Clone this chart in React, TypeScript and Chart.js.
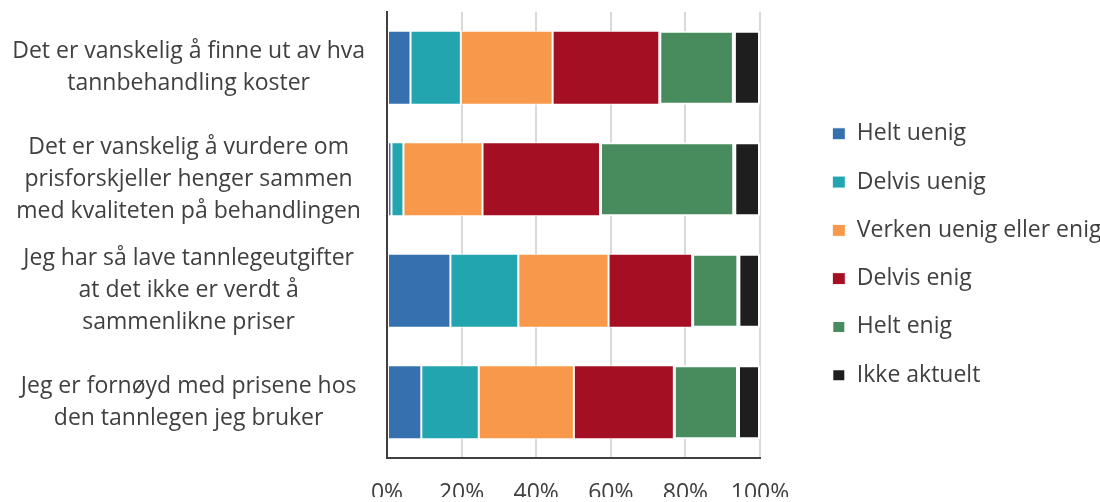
import React, { useEffect, useRef } from "react";
import { Chart, registerables } from "chart.js";

Chart.register(...registerables);

const categories: string[][] = [
  ["Det er vanskelig å finne ut av hva", "tannbehandling koster"],
  ["Det er vanskelig å vurdere om", "prisforskjeller henger sammen", "med kvaliteten på behandlingen"],
  ["Jeg har så lave tannlegeutgifter", "at det ikke er verdt å", "sammenlikne priser"],
  ["Jeg er fornøyd med prisene hos", "den tannlegen jeg bruker"],
];

const seriesNames = ["Helt uenig", "Delvis uenig", "Verken uenig eller enig", "Delvis enig", "Helt enig", "Ikke aktuelt"];

const heltUenig = [6.3, 1.2, 17.0, 9.2];
const delvisUenig = [13.5, 3.2, 18.2, 15.4];
const verken = [24.6, 21.2, 24.2, 25.5];
const delvisEnig = [28.6, 31.5, 22.4, 26.8];
const heltEnig = [20.0, 36.0, 12.4, 17.2];
const ikkeAktuelt = [7.0, 6.9, 5.8, 5.9];

const xTicks = [0, 20, 40, 60, 80, 100];

const colors = ["#3670AE", "#22A5AF", "#F7984A", "#A50F23", "#488C5E", "#1E1E1E"];
const borderWidths = [1, 1, 1, 1, 2, 2];

const FONT = "'Open Sans'";
const TEXT = "#404040";

export default function App() {
  const ref = useRef<HTMLCanvasElement | null>(null);

  useEffect(() => {
    if (!ref.current) return;
    const values = [heltUenig, delvisUenig, verken, delvisEnig, heltEnig, ikkeAktuelt];
    const chart = new Chart(ref.current, {
      type: "bar",
      data: {
        labels: categories,
        datasets: values.map((v, i) => ({
          label: seriesNames[i],
          data: v,
          backgroundColor: colors[i],
          borderColor: "#ffffff",
          borderWidth: borderWidths[i],
          borderSkipped: false,
          barPercentage: 0.664,
          categoryPercentage: 1,
        })),
      },
      options: {
        indexAxis: "y",
        animation: false,
        responsive: true,
        maintainAspectRatio: false,
        layout: { padding: { top: 12, bottom: 5, left: 0, right: 0 } },
        plugins: {
          tooltip: { enabled: false },
          legend: {
            position: "right",
            maxWidth: 293,
            labels: {
              font: { family: FONT, size: 23 },
              color: TEXT,
              boxWidth: 13,
              boxHeight: 12,
              padding: 25.3,
            },
          },
        },
        scales: {
          x: {
            stacked: true,
            min: 0,
            max: 100,
            afterBuildTicks: (s: any) => {
              s.ticks = xTicks.map((v) => ({ value: v }));
            },
            grid: { color: "#d9d9d9", lineWidth: 2, drawTicks: false },
            border: { display: true, color: "#404040", width: 2, z: 1 },
            ticks: {
              font: { family: FONT, size: 23, lineHeight: 1.2 },
              color: TEXT,
              padding: 21.2,
              callback: (v: any) => v + "%",
            },
            afterFit: (s: any) => {
              s.height = 39;
            },
          },
          y: {
            stacked: true,
            grid: { display: false, drawTicks: false },
            border: { display: true, color: "#404040", width: 2, z: 1 },
            ticks: {
              font: { family: FONT, size: 23, lineHeight: 1.39 },
              color: TEXT,
              crossAlign: "center",
              padding: 22,
            },
            afterFit: (s: any) => {
              s.width = 387;
              s.paddingTop = 0;
              s.paddingBottom = 0;
            },
          },
          r: {
            type: "linear",
            axis: "y",
            position: "right",
            display: true,
            grid: { display: false, drawTicks: false },
            border: { display: false },
            ticks: { display: false },
            afterFit: (s: any) => {
              s.width = 47;
              s.paddingTop = 0;
              s.paddingBottom = 0;
            },
          },
        },
      },
    });
    return () => chart.destroy();
  }, []);

  return (
    <div style={{ position: "fixed", left: 0, top: 0, width: 1100, height: 502, background: "#fff" }}>
      <canvas ref={ref} />
    </div>
  );
}
